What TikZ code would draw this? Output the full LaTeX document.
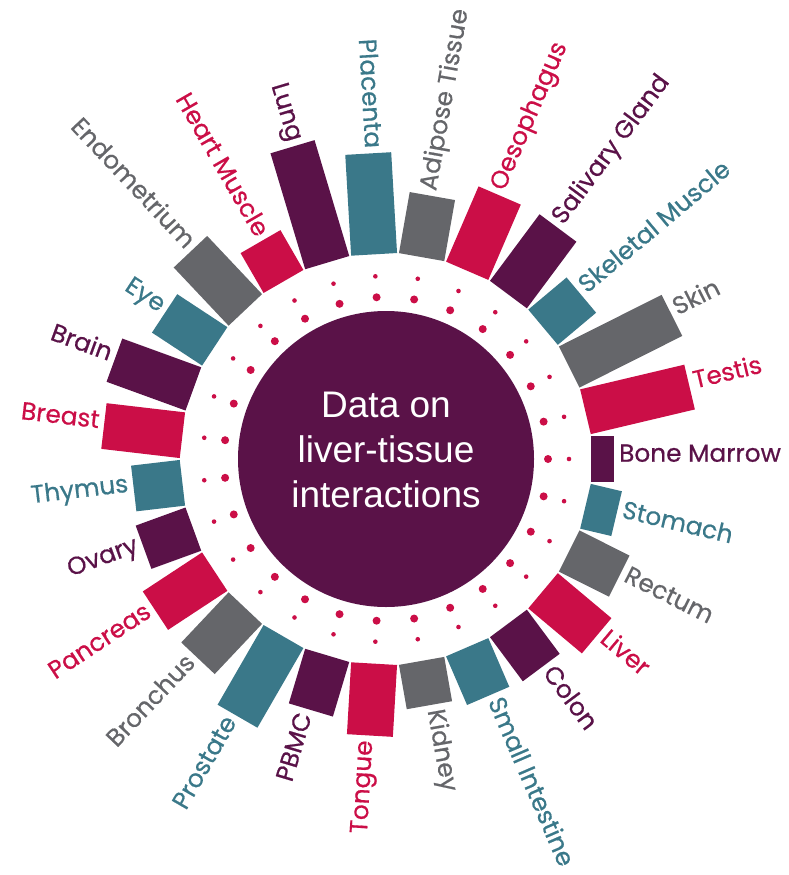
\documentclass[tikz,border=0pt]{standalone}
\usepackage{fontspec}
\setmainfont{Poppins}[FakeBold=0.6]
\newfontfamily\centerfont{Liberation Sans}
\definecolor{cred}{RGB}{203,14,71}
\definecolor{cpurple}{RGB}{90,18,72}
\definecolor{cteal}{RGB}{58,120,137}
\definecolor{cgray}{RGB}{101,102,106}
\tikzset{
  lab/.style={inner sep=0pt, font=\fontsize{24.8}{30}\selectfont},
  dot/.style={fill=cred},
}
\begin{document}
\begin{tikzpicture}[x=1pt,y=1pt]
\useasboundingbox (0,-875) rectangle (788,0);
\coordinate (O) at (386,-459);
\node[circle, fill=cpurple, minimum size=296pt, inner sep=0pt] (hub) at (O) {};
\node[text=white, align=center, font=\centerfont\fontsize{37}{45}\selectfont, inner sep=0pt] (title) at (386,-450) {Data on\\liver-tissue\\interactions};
% dots
\foreach \k in {0,...,26}{
  \pgfmathsetmacro{\ang}{\k*360/27}
  \fill[dot] ([shift={(\ang:162)}]O) circle[radius=4pt];
  \fill[dot] ([shift={(\ang:183)}]O) circle[radius=2.3pt];
}
% right side bars
\foreach \k/\r/\c/\t in {0/228/cpurple/Bone Marrow, 1/312/cred/Testis, 2/320/cgray/Skin, 3/255/cteal/Skeletal Muscle, 4/288/cpurple/Salivary Gland, 5/287/cred/Oesophagus, 6/267/cgray/Adipose Tissue, 21/250/cgray/Kidney, 22/258/cteal/Small Intestine, 23/260/cpurple/Colon, 24/275/cred/Liver, 25/261/cgray/Rectum, 26/237/cteal/Stomach}{
  \pgfmathsetmacro{\ang}{\k*360/27}
  \pgfmathsetmacro{\lr}{\r+5}
  \begin{scope}[shift={(O)}, rotate=\ang]
    \fill[\c] (205,-23) rectangle (\r,23);
  \end{scope}
  \node[lab, text=\c, rotate=\ang, anchor=mid west] (L\k) at ([shift={(\ang:\lr)}]O) {\t};
}
% left side bars
\foreach \k/\r/\c/\t in {7/306/cteal/Placenta, 8/326/cpurple/Lung, 9/251/cred/Heart Muscle, 10/285/cgray/Endometrium, 11/265/cteal/Eye, 12/289/cpurple/Brain, 13/284/cred/Breast, 14/254/cteal/Thymus, 15/258/cpurple/Ovary, 16/276/cred/Pancreas, 17/274/cgray/Bronchus, 18/297/cteal/Prostate, 19/262/cpurple/PBMC, 20/277/cred/Tongue}{
  \pgfmathsetmacro{\ang}{\k*360/27}
  \pgfmathsetmacro{\lr}{\r+5}
  \pgfmathsetmacro{\rot}{\ang-180}
  \begin{scope}[shift={(O)}, rotate=\ang]
    \fill[\c] (205,-23) rectangle (\r,23);
  \end{scope}
  \node[lab, text=\c, rotate=\rot, anchor=mid east] (L\k) at ([shift={(\ang:\lr)}]O) {\t};
}
\end{tikzpicture}
\end{document}
